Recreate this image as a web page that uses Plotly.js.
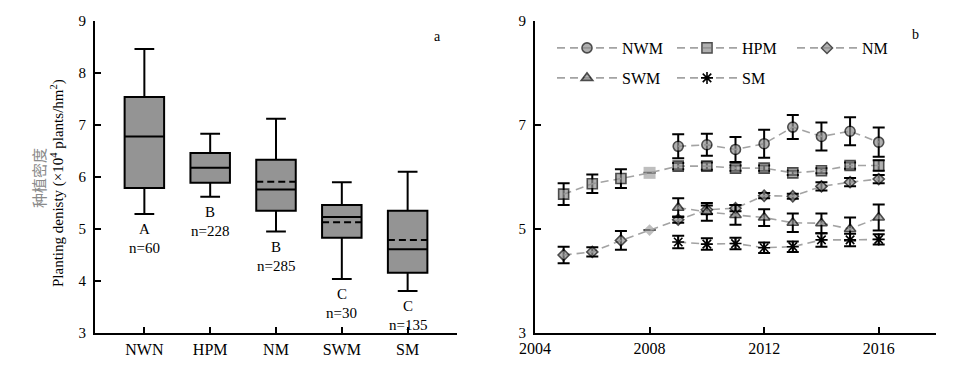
<!DOCTYPE html>
<html>
<head>
<meta charset="utf-8">
<script src="https://cdn.plot.ly/plotly-3.0.1.min.js"></script>
<style>
html,body{margin:0;padding:0;background:#fff;}
#chart{width:954px;height:367px;}
.boxlayer path.mean{stroke-dasharray:7px,4px !important;}
</style>
</head>
<body>
<div id="chart"></div>
<script>
// ---- Panel a: box statistics ----
var regions = ['NWN', 'HPM', 'NM', 'SWM', 'SM'];
var upperFence = [8.46, 6.83, 7.12, 5.90, 6.10];
var q3Vals = [7.54, 6.46, 6.33, 5.46, 5.35];
var medianVals = [6.78, 6.18, 5.76, 5.23, 4.61];
var meanVals = [null, null, 5.91, 5.13, 4.79];
var q1Vals = [5.79, 5.89, 5.35, 4.83, 4.16];
var lowerFence = [5.29, 5.62, 4.95, 4.04, 3.81];
var groupLetters = ['A', 'B', 'B', 'C', 'C'];
var sampleSizes = ['n=60', 'n=228', 'n=285', 'n=30', 'n=135'];

// ---- Panel b: yearly means with error bars ----
var years = [2005, 2006, 2007, 2008, 2009, 2010, 2011, 2012, 2013, 2014, 2015, 2016];
var nwmMean = [null, null, null, null, 6.59, 6.62, 6.53, 6.64, 6.96, 6.78, 6.88, 6.67];
var nwmErr  = [null, null, null, null, 0.23, 0.21, 0.24, 0.27, 0.23, 0.27, 0.27, 0.28];
var hpmMean = [5.67, 5.87, 5.97, 6.08, 6.21, 6.21, 6.17, 6.17, 6.08, 6.12, 6.22, 6.22];
var hpmErr  = [0.21, 0.18, 0.18, null, 0.06, 0.07, 0.05, 0.05, 0.04, 0.05, 0.06, 0.10];
var nmMean  = [4.50, 4.56, 4.78, 4.98, 5.18, 5.37, 5.40, 5.64, 5.63, 5.82, 5.90, 5.96];
var nmErr   = [0.16, 0.09, 0.18, null, 0.06, 0.08, 0.06, 0.05, 0.05, 0.08, 0.08, 0.08];
var swmMean = [null, null, null, null, 5.41, 5.33, 5.27, 5.22, 5.12, 5.11, 5.00, 5.22];
var swmErr  = [null, null, null, null, 0.18, 0.17, 0.19, 0.16, 0.18, 0.19, 0.22, 0.25];
var smMean  = [null, null, null, null, 4.75, 4.71, 4.72, 4.64, 4.66, 4.79, 4.79, 4.80];
var smErr   = [null, null, null, null, 0.12, 0.11, 0.11, 0.10, 0.10, 0.13, 0.12, 0.10];

var FONT = 'Liberation Serif, Times New Roman, serif';
var CJK = '"Noto Sans CJK SC", "Noto Sans CJK JP", sans-serif';
var LINEGRAY = '#a3a3a3';
var FILLGRAY = '#8f8f8f';
var LIGHTGRAY = '#a3a3a3';

function pick(arr, idx) { return idx.map(function (i) { return arr[i]; }); }
var noMeanIdx = [], meanIdx = [];
for (var i = 0; i < regions.length; i++) { (meanVals[i] === null ? noMeanIdx : meanIdx).push(i); }

function boxTrace(idx, withMean) {
  var t = {
    type: 'box', x: pick(regions, idx),
    q1: pick(q1Vals, idx), median: pick(medianVals, idx), q3: pick(q3Vals, idx),
    lowerfence: pick(lowerFence, idx), upperfence: pick(upperFence, idx),
    boxpoints: false, width: 0.6, whiskerwidth: 0.5,
    fillcolor: '#949494', line: {color: '#000', width: 2},
    xaxis: 'x', yaxis: 'y', showlegend: false, hoverinfo: 'skip'
  };
  if (withMean) { t.mean = pick(meanVals, idx); t.boxmean = true; } else { t.boxmean = false; }
  return t;
}

function lineTrace(name, ys, errs, symbol, size, specialSize, legend) {
  var colors = [], lws = [], sizes = [];
  for (var i = 0; i < ys.length; i++) {
    var special = (errs[i] === null && ys[i] !== null);
    colors.push(special ? LIGHTGRAY : FILLGRAY);
    lws.push(special ? 0 : 1.6);
    sizes.push(special ? specialSize : size);
  }
  var isAst = symbol.indexOf('asterisk') === 0;
  return {
    type: 'scatter', mode: 'lines+markers', name: name, x: years, y: ys,
    connectgaps: false,
    line: {color: LINEGRAY, width: 1.6, dash: '8px,5px'},
    marker: {symbol: symbol, size: isAst ? size : sizes,
             color: isAst ? '#000' : colors,
             line: {color: '#000', width: isAst ? 1.6 : lws}},
    error_y: {type: 'data', array: errs, visible: true, color: '#000', thickness: 2, width: 6},
    xaxis: 'x2', yaxis: 'y2', legend: legend
  };
}

var data = [
  boxTrace(noMeanIdx, false),
  boxTrace(meanIdx, true),
  lineTrace('NWM', nwmMean, nwmErr, 'circle', 10, 9, 'legend'),
  lineTrace('HPM', hpmMean, hpmErr, 'square', 10, 12, 'legend'),
  lineTrace('NM', nmMean, nmErr, 'diamond', 8.5, 9, 'legend'),
  lineTrace('SWM', swmMean, swmErr, 'triangle-up', 10, 9, 'legend2'),
  lineTrace('SM', smMean, smErr, 'asterisk-open', 10, 10, 'legend2')
];

var annotations = [];
for (var j = 0; j < regions.length; j++) {
  annotations.push({xref: 'x', yref: 'y', x: regions[j], y: lowerFence[j], text: groupLetters[j],
    showarrow: false, yanchor: 'middle', yshift: -15, font: {family: FONT, size: 15, color: '#000'}});
  annotations.push({xref: 'x', yref: 'y', x: regions[j], y: lowerFence[j], text: sampleSizes[j],
    showarrow: false, yanchor: 'middle', yshift: -34, font: {family: FONT, size: 15, color: '#000'}});
}
annotations.push({xref: 'paper', yref: 'paper', x: 38/954, y: 1 - 178/367, xanchor: 'center', yanchor: 'middle',
  textangle: -90, showarrow: false, text: '种植密度',
  font: {family: CJK, size: 15, color: '#8a8a8a'}});
annotations.push({xref: 'paper', yref: 'paper', x: 58/954, y: 1 - 183/367, xanchor: 'center', yanchor: 'middle',
  textangle: -90, showarrow: false,
  text: 'Planting denisty (×10<sup>4</sup> plants/hm<sup>2</sup>)',
  font: {family: FONT, size: 15, color: '#000'}});
annotations.push({xref: 'paper', yref: 'paper', x: 437/954, y: 1 - 36/367, xanchor: 'center', yanchor: 'middle',
  showarrow: false, text: 'a', font: {family: FONT, size: 14, color: '#000'}});
annotations.push({xref: 'paper', yref: 'paper', x: 915/954, y: 1 - 35/367, xanchor: 'center', yanchor: 'middle',
  showarrow: false, text: 'b', font: {family: FONT, size: 14, color: '#000'}});

var axisCommon = {
  showline: true, linecolor: '#000', linewidth: 2, showgrid: false, zeroline: false,
  ticks: 'inside', ticklen: 6, tickwidth: 2, tickcolor: '#000', automargin: false,
  tickfont: {family: FONT, size: 15, color: '#000'}
};
function ax(extra) { var o = {}; for (var k in axisCommon) o[k] = axisCommon[k]; for (var k2 in extra) o[k2] = extra[k2]; return o; }

var yDom = [1 - 333/367, 1 - 21/367];
var layout = {
  width: 954, height: 367,
  margin: {l: 0, r: 0, t: 0, b: 0},
  paper_bgcolor: '#fff', plot_bgcolor: '#fff',
  font: {family: FONT, size: 15, color: '#000'},
  boxmode: 'overlay',
  xaxis: ax({domain: [95/954, 457/954], type: 'category', categoryorder: 'array', categoryarray: regions,
    range: [-0.75, 4.75], anchor: 'y', ticklabelstandoff: 1, tickfont: {family: FONT, size: 16, color: '#000'}}),
  yaxis: ax({domain: yDom, range: [3, 9], dtick: 1, anchor: 'x', ticklabelstandoff: 4}),
  xaxis2: ax({domain: [535/954, 936/954], range: [2004, 2018], tickvals: [2004, 2008, 2012, 2016], anchor: 'y2', ticklabelstandoff: 0, tickfont: {family: FONT, size: 16, color: '#000'}}),
  yaxis2: ax({domain: yDom, range: [3, 9], tickvals: [3, 5, 7, 9], anchor: 'x2', ticklabelstandoff: 4}),
  showlegend: true,
  legend: {orientation: 'h', x: 552/954, y: 1 - 31/367, xanchor: 'left', yanchor: 'top',
    itemwidth: 60, entrywidth: 45, entrywidthmode: 'pixels', bgcolor: 'rgba(0,0,0,0)',
    font: {family: FONT, size: 16, color: '#000'}, traceorder: 'normal'},
  legend2: {orientation: 'h', x: 552/954, y: 1 - 61/367, xanchor: 'left', yanchor: 'top',
    itemwidth: 60, entrywidth: 45, entrywidthmode: 'pixels', bgcolor: 'rgba(0,0,0,0)',
    font: {family: FONT, size: 16, color: '#000'}, traceorder: 'normal'},
  annotations: annotations
};

Plotly.newPlot('chart', data, layout, {displayModeBar: false, staticPlot: true});
</script>
</body>
</html>
